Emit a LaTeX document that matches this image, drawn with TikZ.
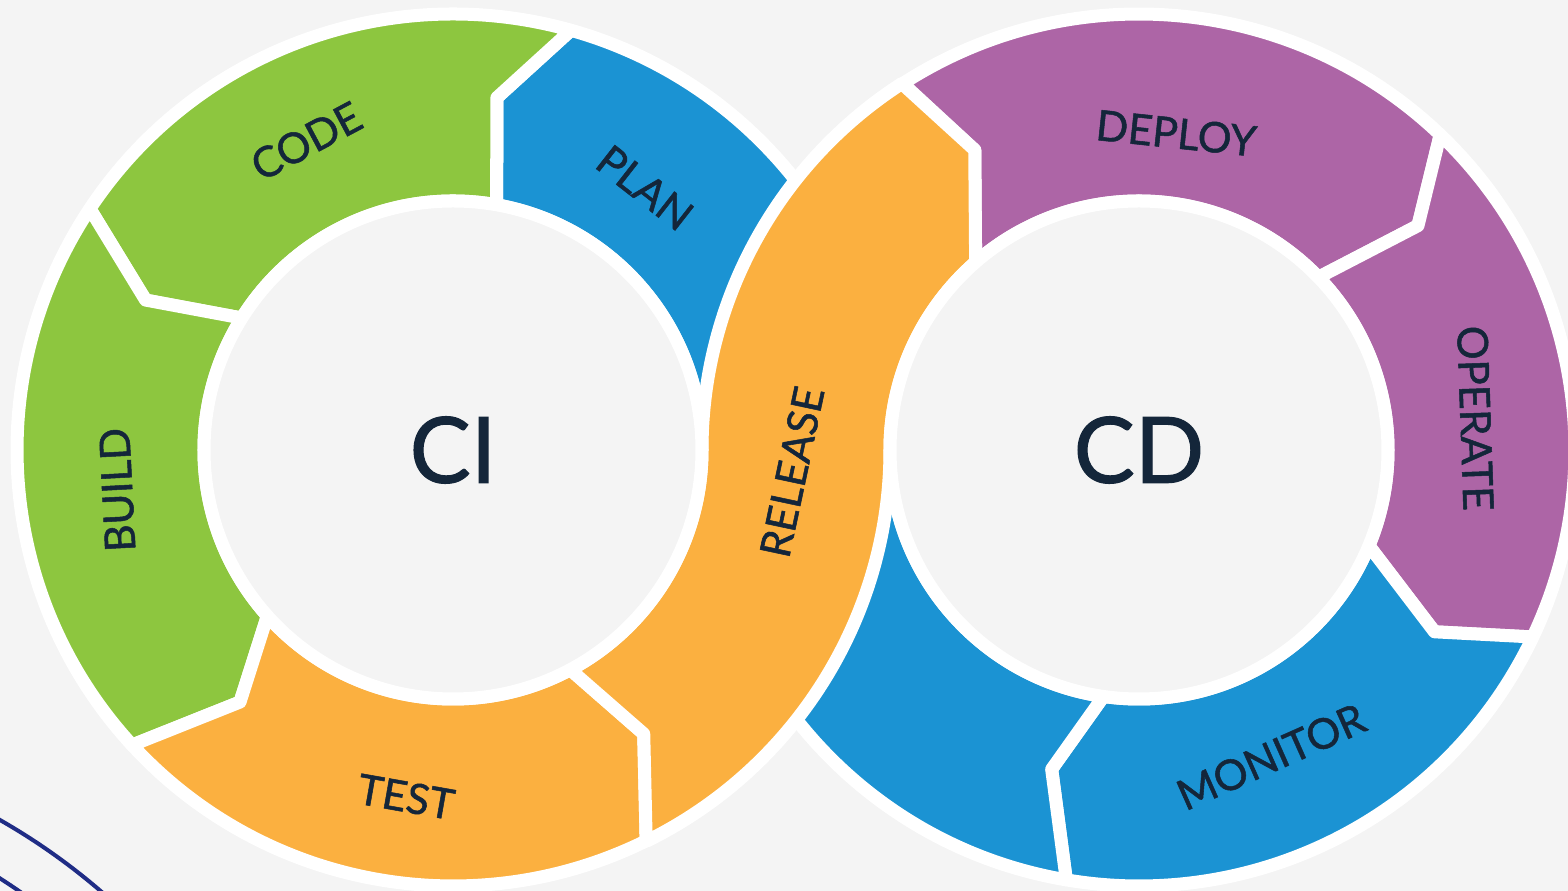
\documentclass[tikz,border=0pt]{standalone}
\usepackage{fontspec}
\setmainfont{Lato}
\newfontfamily\ringfont[FakeBold=1.2]{Lato}
\usetikzlibrary{calc}

\definecolor{bggray}{HTML}{F4F4F4}
\definecolor{codegreen}{HTML}{8DC63F}
\definecolor{planblue}{HTML}{1B93D3}
\definecolor{relorange}{HTML}{FBB040}
\definecolor{opspurple}{HTML}{AD65A6}
\definecolor{inktext}{HTML}{14263A}
\definecolor{arcnavy}{HTML}{1F2C85}

\begin{document}
\begin{tikzpicture}[x=0.01cm,y=0.01cm,
  seg/.style={draw=white,line width=0.13cm,line join=round},
  lbl/.style={text=inktext,font=\ringfont\fontsize{12}{14}\selectfont,inner sep=0pt},
  big/.style={text=inktext,font=\ringfont\fontsize{26}{30}\selectfont,inner sep=0pt}]

\fill[bggray] (0,0) rectangle (1568,891);
\useasboundingbox (0,0) rectangle (1568,891);

%\draw[help lines,step=100] (0,0) grid (1568,891);

\draw[arcnavy,line width=0.04cm] (-317,-485) ++(44:640) arc[start angle=44,end angle=64,radius=640];
\draw[arcnavy,line width=0.04cm] (-317,-485) ++(44:590) arc[start angle=44,end angle=64,radius=590];

\coordinate (lc) at (453,441);
\coordinate (rc) at (1139,441);

% CI ring
\begin{scope}[shift={(lc)}]
\path[seg,fill=planblue] (0:249) arc[start angle=0,end angle=79.9,radius=249]
  -- (82.9:355) -- (74.3:436) arc[start angle=74.3,end angle=0,radius=436] -- cycle;
\path[seg,fill=codegreen] (74.3:436) -- (82.9:355) -- (79.9:249)
  arc[start angle=79.9,end angle=148,radius=249] -- (154:342) -- (146.4:436)
  arc[start angle=146.4,end angle=74.3,radius=436] -- cycle;
\path[seg,fill=codegreen] (146.4:436) -- (154:342) -- (148:249)
  arc[start angle=148,end angle=221.8,radius=249] -- (229.8:330) -- (222.6:436)
  arc[start angle=222.6,end angle=146.4,radius=436] -- cycle;
\path[seg,fill=relorange] (222.6:436) -- (229.8:330) -- (221.8:249)
  arc[start angle=221.8,end angle=298.1,radius=249] -- (303.9:342) -- (296.3:436)
  arc[start angle=296.3,end angle=222.6,radius=436] -- cycle;
\end{scope}

% CD ring
\begin{scope}[shift={(rc)}]
\path[seg,fill=opspurple] (122.8:436) -- (118.7:342) -- (131:249)
  arc[start angle=131,end angle=43.9,radius=249] -- (38.8:358) -- (46.3:436)
  arc[start angle=46.3,end angle=122.8,radius=436] -- cycle;
\path[seg,fill=opspurple] (46.3:436) -- (38.8:358) -- (43.9:249)
  arc[start angle=43.9,end angle=-22.6,radius=249] -- (-31.6:347) -- (-25.4:436)
  arc[start angle=-25.4,end angle=46.3,radius=436] -- cycle;
\path[seg,fill=planblue] (-25.4:436) -- (-31.6:347) -- (-22.6:249)
  arc[start angle=-22.6,end angle=-98.2,radius=249] -- (-105.3:331) -- (-99.6:436)
  arc[start angle=-99.6,end angle=-25.4,radius=436] -- cycle;
\path[seg,fill=planblue] (-99.6:436) -- (-105.3:331) -- (-98.2:249)
  arc[start angle=-98.2,end angle=-180,radius=249] -- (-180:436)
  arc[start angle=-180,end angle=-99.6,radius=436] -- cycle;
\end{scope}

% release band crossing over
\path[seg,fill=relorange] ($(lc)+(296.3:436)$) -- ($(lc)+(303.9:342)$) -- ($(lc)+(298.1:249)$)
  arc[start angle=298.1,end angle=360,radius=249]
  arc[start angle=180,end angle=122.8,radius=436]
  -- ($(rc)+(118.7:342)$) -- ($(rc)+(131:249)$)
  arc[start angle=131,end angle=180,radius=249]
  arc[start angle=0,end angle=-63.7,radius=436] -- cycle;

\filldraw[fill=bggray,draw=white,line width=0.13cm] (lc) circle[radius=249];
\filldraw[fill=bggray,draw=white,line width=0.13cm] (rc) circle[radius=249];

\node[big] (ci) at (lc) {CI};
\node[big] (cd) at (rc) {CD};

\begin{scope}[shift={(lc)}]
\node[lbl,rotate=-38] (plan) at (53.8:325) {PLAN};
\node[lbl,rotate=28] (code) at (115.4:342) {CODE};
\node[lbl,rotate=93] (build) at (186.8:338) {BUILD};
\node[lbl,rotate=-10] (test) at (262.3:350) {TEST};
\end{scope}
\node[lbl,rotate=78] (release) at (792,419) {RELEASE};
\begin{scope}[shift={(rc)}]
\node[lbl,rotate=-6] (deploy) at (83.3:319) {DEPLOY};
\node[lbl,rotate=-88] (operate) at (5.4:338) {OPERATE};
\node[lbl,rotate=24] (monitor) at (-66.7:334) {MONITOR};
\end{scope}

\end{tikzpicture}
\end{document}
